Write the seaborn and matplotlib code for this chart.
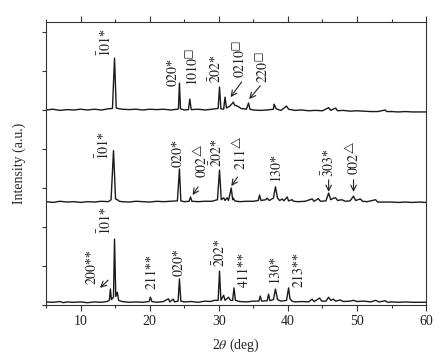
import numpy as np
import pandas as pd
import matplotlib
matplotlib.use("Agg")
import matplotlib.pyplot as plt
from matplotlib.ticker import MultipleLocator
import seaborn as sns

# --- data (2theta in deg, intensity in a.u., traces stacked) ---
tth_bot = [5.0, 6, 7, 7.5, 8, 9, 10, 11, 12, 13, 13.8, 14.15, 14.3, 14.45, 14.75, 14.9, 15.08, 15.3, 15.5,
           16, 17, 18, 19, 19.9, 20.1, 20.3, 21, 22, 22.7, 22.9, 23.4, 23.6, 24.1, 24.3, 24.5, 25, 26, 27,
           28, 28.8, 29.3, 29.9, 30.1, 30.3, 30.7, 30.9, 31.4, 31.7, 32.0, 32.2, 32.4, 33, 34, 35, 35.8,
           36.0, 36.2, 37.0, 37.2, 37.4, 37.9, 38.2, 38.5, 39, 39.8, 40.1, 40.3, 40.6, 41, 42, 43, 43.5,
           43.8, 44.6, 44.9, 45.5, 45.9, 46.2, 46.6, 46.9, 47.6, 48, 49, 49.5, 50, 51, 52, 52.7, 53.2, 54.1,
           54.4, 55, 56, 57, 58, 59, 60]
int_bot = [0.08, 0.07, 0.09, 0.06, 0.08, 0.07, 0.08, 0.06, 0.08, 0.07, 0.09, 0.12, 0.41, 0.14, 0.2, 1.69,
           0.22, 0.33, 0.12, 0.09, 0.07, 0.08, 0.07, 0.09, 0.2, 0.09, 0.07, 0.09, 0.16, 0.08, 0.15, 0.08,
           0.1, 0.67, 0.1, 0.08, 0.09, 0.07, 0.1, 0.09, 0.12, 0.12, 0.87, 0.12, 0.25, 0.12, 0.2, 0.12, 0.12,
           0.44, 0.12, 0.09, 0.08, 0.1, 0.1, 0.23, 0.1, 0.11, 0.28, 0.11, 0.14, 0.41, 0.14, 0.1, 0.12, 0.44,
           0.16, 0.1, 0.08, 0.09, 0.08, 0.15, 0.09, 0.18, 0.1, 0.1, 0.2, 0.12, 0.15, 0.1, 0.13, 0.09, 0.1,
           0.12, 0.09, 0.1, 0.08, 0.12, 0.08, 0.11, 0.07, 0.08, 0.07, 0.08, 0.07, 0.07, 0.07]

tth_mid = [5, 6, 7, 8, 9, 10, 11, 12, 13, 14, 14.4, 14.75, 15.05, 15.3, 15.6, 16, 17, 18, 19, 20, 21, 22,
           23, 24, 24.3, 24.5, 25, 25.7, 25.9, 26.1, 27, 28, 29, 29.8, 30.1, 30.35, 30.7, 30.9, 31.2, 31.4,
           31.8, 32.0, 32.1, 32.3, 33, 34, 35, 35.7, 35.9, 36.1, 36.8, 37.0, 37.3, 37.9, 38.2, 38.5, 38.8,
           39.2, 39.4, 39.9, 40.1, 40.6, 40.8, 41.5, 42.5, 43.5, 43.8, 44.4, 44.7, 45.5, 45.9, 46.2, 46.6,
           46.9, 47.2, 47.8, 48.3, 49, 49.5, 49.8, 50.5, 50.8, 51.5, 52.7, 53, 54, 55, 56, 57, 58, 59, 60]
int_mid = [2.65, 2.63, 2.66, 2.64, 2.65, 2.63, 2.65, 2.64, 2.66, 2.65, 2.7, 3.96, 2.72, 2.7, 2.66, 2.65,
           2.64, 2.66, 2.65, 2.64, 2.66, 2.65, 2.66, 2.67, 3.49, 2.67, 2.65, 2.66, 2.77, 2.66, 2.65, 2.66,
           2.66, 2.7, 3.46, 2.7, 2.75, 2.68, 2.75, 2.68, 3.0, 2.7, 2.74, 2.67, 2.65, 2.66, 2.66, 2.68, 2.82,
           2.68, 2.7, 2.74, 2.68, 2.74, 3.03, 2.74, 2.68, 2.72, 2.67, 2.77, 2.67, 2.7, 2.66, 2.65, 2.66,
           2.72, 2.66, 2.73, 2.66, 2.67, 2.87, 2.7, 2.74, 2.75, 2.68, 2.7, 2.66, 2.67, 2.79, 2.68, 2.72,
           2.66, 2.65, 2.7, 2.64, 2.64, 2.64, 2.63, 2.64, 2.63, 2.64, 2.63]

tth_top = [5, 6, 7, 8, 9, 10, 11, 12, 13, 14, 14.6, 14.9, 15.15, 15.6, 16, 17, 18, 19, 20, 21, 22, 23, 24,
           24.15, 24.3, 24.45, 25, 25.6, 25.8, 26.0, 27, 28, 29, 29.9, 30.1, 30.3, 30.7, 30.9, 31.1, 31.6,
           32.1, 32.3, 32.7, 33.2, 34.0, 34.3, 34.5, 35, 36, 37, 37.9, 38.0, 38.3, 39, 39.8, 40.1, 41, 42,
           43, 44, 45, 45.9, 46.2, 46.9, 47.2, 48, 49, 50, 51, 52, 53, 54.1, 54.3, 55, 56, 57, 58, 59, 60]
int_top = [5.0, 5.02, 4.99, 5.01, 5.0, 5.02, 5.0, 5.02, 5.0, 5.03, 5.04, 6.33, 5.05, 5.03, 5.02, 5.01,
           5.02, 5.0, 5.02, 5.01, 5.02, 5.0, 5.02, 5.03, 5.69, 5.03, 5.0, 5.01, 5.28, 5.01, 5.02, 5.0, 5.02,
           5.04, 5.59, 5.03, 5.02, 5.33, 5.05, 5.1, 5.2, 5.12, 5.1, 5.04, 5.02, 5.18, 5.02, 5.0, 4.99, 5.0,
           5.02, 5.15, 5.03, 4.99, 5.1, 5.02, 4.99, 5.0, 4.98, 4.99, 4.98, 5.06, 4.99, 5.05, 4.98, 4.99,
           4.97, 4.98, 4.97, 4.96, 4.96, 5.0, 4.96, 4.96, 4.95, 4.96, 4.95, 4.95, 4.95]

# peak labels: text, x of label, bottom of label
lab_top = [r"$\bar{\mathrm{1}}\mathrm{01}$*", r"$\mathrm{020}$*", r"$\mathrm{1010}^{□}$",
           r"$\bar{\mathrm{2}}\mathrm{02}$*", r"$\mathrm{0210}^{□}$", r"$\mathrm{220}^{□}$"]
lab_mid = [r"$\bar{\mathrm{1}}\mathrm{01}$*", r"$\mathrm{020}$*", r"$\mathrm{002}^{△}$",
           r"$\bar{\mathrm{2}}\mathrm{02}$*", r"$\mathrm{211}^{△}$", r"$\mathrm{130}$*",
           r"$\bar{\mathrm{3}}\mathrm{03}$*", r"$\mathrm{002}^{△}$"]
lab_bot = [r"$\mathrm{200}$**", r"$\bar{\mathrm{1}}\mathrm{01}$*", r"$\mathrm{211}$**", r"$\mathrm{020}$*",
           r"$\bar{\mathrm{2}}\mathrm{02}$*", r"$\mathrm{411}$**", r"$\mathrm{130}$*", r"$\mathrm{213}$**"]

labx_top = [13.55, 23.3, 26.2, 29.6, 33.0, 36.3]
laby_top = [6.36, 5.59, 5.62, 5.69, 5.82, 5.69]
labx_mid = [13.3, 24.1, 27.5, 29.7, 33.1, 38.3, 45.9, 49.5]
laby_mid = [3.72, 3.51, 3.26, 3.54, 3.46, 3.13, 3.28, 3.33]
labx_bot = [11.7, 13.6, 20.2, 24.3, 30.1, 33.6, 38.2, 41.5]
laby_bot = [0.51, 1.79, 0.38, 0.72, 0.97, 0.44, 0.51, 0.44]

# arrows: (start x, start y, tip x, tip y)
arrows = [(33.3, 5.72, 31.7, 5.33), (36.0, 5.62, 34.4, 5.28),
          (27.0, 3.03, 26.2, 2.82), (32.7, 3.28, 31.8, 3.05),
          (45.9, 3.21, 45.9, 2.90), (49.5, 3.21, 49.5, 2.90),
          (14.0, 0.64, 12.8, 0.44)]

sns.set_style("ticks")
plt.rcParams["font.family"] = ["Liberation Serif", "DejaVu Serif"]
plt.rcParams["mathtext.fontset"] = "stix"
plt.rcParams["font.size"] = 10

fig = plt.figure(figsize=(4.48, 3.64), dpi=100)
ax = fig.add_axes([0.103, 0.162, 0.848, 0.778])

for xs, ys in [(tth_bot, int_bot), (tth_mid, int_mid), (tth_top, int_top)]:
    df = pd.DataFrame({"tth": xs, "I": ys})
    sns.lineplot(data=df, x="tth", y="I", ax=ax, color="#1a1a1a", lw=1.0,
                 estimator=None, sort=False)

for labs, lx, ly in [(lab_top, labx_top, laby_top), (lab_mid, labx_mid, laby_mid),
                     (lab_bot, labx_bot, laby_bot)]:
    for t, x, y in zip(labs, lx, ly):
        ax.text(x, y, t, rotation=90, ha="center", va="bottom", fontsize=10, color="#222222")

for x0, y0, x1, y1 in arrows:
    ax.annotate("", xy=(x1, y1), xytext=(x0, y0),
                arrowprops=dict(arrowstyle="->", lw=0.8, color="#222222",
                                shrinkA=0, shrinkB=0))

ax.set_xlim(5, 60)
ax.set_ylim(0, 7.26)
ax.xaxis.set_major_locator(MultipleLocator(10))
ax.xaxis.set_minor_locator(MultipleLocator(5))
ax.yaxis.set_major_locator(MultipleLocator(1))
ax.set_yticklabels([])
ax.tick_params(axis="x", which="both", top=True, direction="out", colors="#333333", labelcolor="#222222")
ax.tick_params(axis="x", which="major", length=4, width=0.8, labelsize=10)
ax.tick_params(axis="x", which="minor", length=2.5, width=0.8)
ax.tick_params(axis="y", which="major", length=3, width=0.8, colors="#333333")
for s in ax.spines.values():
    s.set_visible(True)
    s.set_linewidth(0.8)
    s.set_color("#333333")

ax.set_xlabel(r"2$\theta$ (deg)", fontsize=10, labelpad=6)
ax.set_ylabel("Intensity (a.u.)", fontsize=10, labelpad=8)

fig.savefig("out.png", dpi=100)
